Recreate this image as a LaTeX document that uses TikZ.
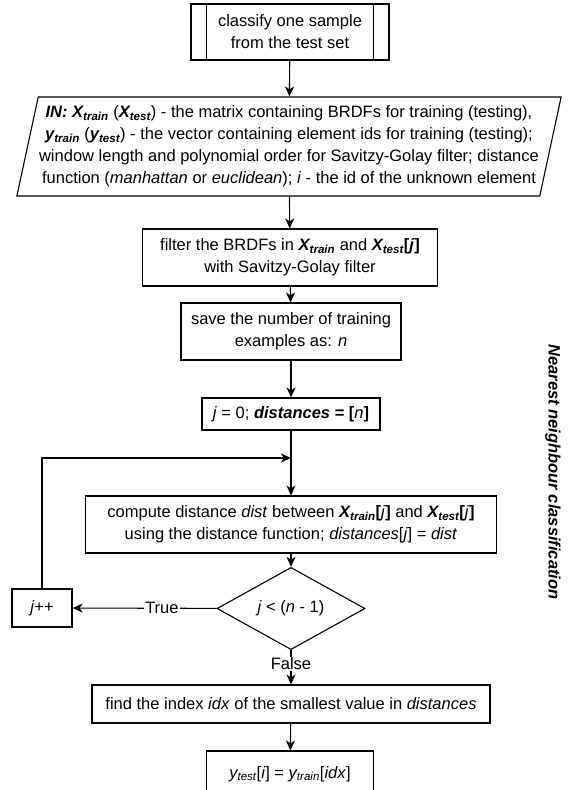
\documentclass[tikz,border=0pt]{standalone}
\usepackage{fontspec}
\setmainfont{Liberation Sans}
\usetikzlibrary{shapes.geometric,arrows.meta,positioning}
\newcommand{\bv}[2]{\textbf{\textit{#1\textsubscript{#2}}}}

\begin{document}
\begin{tikzpicture}[x=1pt,y=-1pt,
    every node/.style={font=\fontsize{16.5}{22}\selectfont, align=center, inner sep=2pt},
    box/.style={draw, line width=1.1pt, rectangle},
    io/.style={draw, line width=1.1pt, trapezium, trapezium left angle=76, trapezium right angle=104, trapezium stretches=true},
    test/.style={draw, line width=1.1pt, diamond},
    flow/.style={line width=1.1pt, -{Stealth[length=10pt,width=9pt,inset=3pt]}},
    lbl/.style={fill=white, inner sep=1pt}]

    \useasboundingbox (0,0) rectangle (573,790);
    \clip (0,0) rectangle (573,790);

    \node[box, minimum width=198, minimum height=56] (start) at (290,32) {classify one sample\\from the test set};
    \draw[line width=1.1pt] ([xshift=16]start.north west) -- ([xshift=16]start.south west);
    \draw[line width=1.1pt] ([xshift=-16]start.north east) -- ([xshift=-16]start.south east);

    \node[io, minimum width=548, minimum height=99, inner xsep=0pt] (input) at (289,146.5) {%
      \textbf{\textit{IN:} \bv{X}{train}} (\bv{X}{test}) - the matrix containing BRDFs for training (testing),\\
      \bv{y}{train} (\bv{y}{test}) - the vector containing element ids for training (testing);\\
      window length and polynomial order for Savitzy-Golay filter; distance\\
      function (\textit{manhattan} or \textit{euclidean}); \textit{i} - the id of the unknown element};

    \node[box, minimum width=295, minimum height=57] (filter) at (290,257.5) {filter the BRDFs in \bv{X}{train} and \bv{X}{test}\textbf{[\textit{j}]}\\with Savitzy-Golay filter};
    \node[box, minimum width=220, minimum height=57] (save) at (291,331.5) {save the number of training\\examples as: \textit{n}};
    \node[box, minimum width=178, minimum height=32] (init) at (291,414) {\textit{j} = 0; \textbf{\textit{distances} = [}\textit{n}\textbf{]}};
    \coordinate (merge) at (291,458);
    \node[box, minimum width=411, minimum height=57] (dist) at (291,524.5) {compute distance \textit{dist} between \bv{X}{train}\textbf{[}\textit{j}\textbf{]} and \bv{X}{test}\textbf{[}\textit{j}\textbf{]}\\using the distance function; \textit{distances}[\textit{j}] = \textit{dist}};
    \node[test, minimum width=148, minimum height=66, inner sep=0pt] (cond) at (291,608.5) {\textit{j} < (\textit{n} - 1)};
    \node[box, minimum width=60, minimum height=38] (incr) at (42,608) {\textit{j}++};
    \node[box, minimum width=398, minimum height=38] (find) at (291,704) {find the index \textit{idx} of the smallest value in \textit{distances}};
    \node[box, minimum width=167, minimum height=46] (result) at (290,774) {\textit{y\textsubscript{test}}[\textit{i}] = \textit{y\textsubscript{train}}[\textit{idx}]};

    \node[font=\fontsize{16.5}{22}\selectfont\bfseries\itshape, rotate=-90] (title) at (553,472) {Nearest neighbour classification};

    \draw[flow] (start) -- (input);
    \draw[flow] (input) -- (filter);
    \draw[flow] (filter) -- (save);
    \draw[flow] (save) -- (init);
    \draw[line width=1.1pt] (init) -- (merge);
    \draw[flow] (merge) -- (dist);
    \draw[flow] (dist) -- (cond);
    \draw[flow] (cond) -- node[lbl, pos=0.38] {True} (incr);
    \draw[flow] (incr.north) |- (merge);
    \draw[flow] (cond) -- node[lbl, pos=0.4] {False} (find);
    \draw[flow] (find) -- (result);

  \end{tikzpicture}
\end{document}
